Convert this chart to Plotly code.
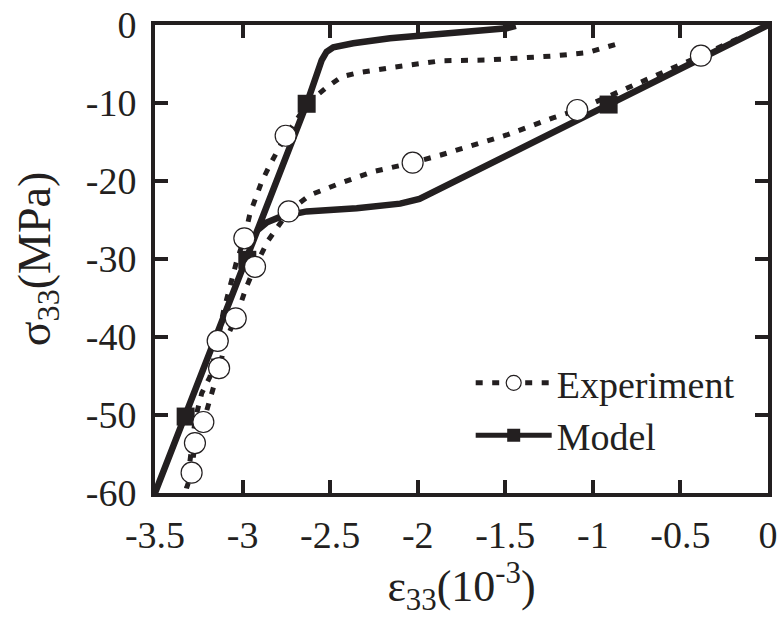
import plotly.graph_objects as go

# ---- data ----
exp_x = [0, -0.383, -1.089, -1.228, -1.492, -1.70, -1.873, -2.029, -2.254, -2.444, -2.615,
         -2.737, -2.786, -2.853, -2.929, -2.98, -3.039, -3.089, -3.134, -3.19, -3.224, -3.272,
         -3.291, -3.32,
         -3.27, -3.233, -3.186, -3.142, -3.11, -3.062, -3.034, -2.99, -2.958, -2.891, -2.843,
         -2.754, -2.672, -2.59, -2.52, -2.434, -2.339, -2.139, -1.863, -1.606, -1.416, -1.226,
         -1.035, -0.94, -0.849]
exp_y = [0, -3.93, -10.9, -11.9, -14.1, -15.6, -16.7, -17.65, -18.8, -20.3, -21.8,
         -23.9, -25.4, -27.6, -31.0, -33.7, -37.6, -40.0, -44.0, -48.3, -50.9, -53.6,
         -57.4, -59.4,
         -50.5, -47.2, -45.1, -40.5, -36.8, -32.7, -30.3, -27.35, -24.2, -20.1, -17.9,
         -14.2, -11.5, -9.3, -8.0, -6.63, -6.12, -5.42, -4.58, -4.49, -4.27, -3.97,
         -3.55, -2.99, -2.35]

exp_marker_x = [-0.383, -1.089, -2.029, -2.737, -2.754, -2.99, -2.929, -3.039, -3.142,
                -3.134, -3.224, -3.272, -3.291]
exp_marker_y = [-3.93, -10.9, -17.65, -23.9, -14.2, -27.35, -31.0, -37.6, -40.5,
                -44.0, -50.9, -53.6, -57.4]

model_x = [0, -0.91, -1.99, -2.1, -2.348, -2.634, -2.786, -2.86, -2.915, -3.5,
           -2.634, -2.548, -2.52, -2.482, -2.368, -2.158, -1.777, -1.492, -1.44]
model_y = [0, -10.2, -22.3, -22.9, -23.5, -23.9, -24.6, -25.3, -26.3, -60,
           -10.1, -4.49, -3.42, -2.86, -2.35, -1.71, -1.07, -0.43, -0.1]

model_marker_x = [-0.91, -2.634, -2.973, -3.325]
model_marker_y = [-10.2, -10.1, -30.1, -50.2]

x_tickvals = [-3.5, -3, -2.5, -2, -1.5, -1, -0.5, 0]
x_ticktext = ["-3.5", "-3", "-2.5", "-2", "-1.5", "-1", "-0.5", "0"]
y_tickvals = [0, -10, -20, -30, -40, -50, -60]
y_ticktext = ["0", "-10", "-20", "-30", "-40", "-50", "-60"]

INK = "#231f20"
FONT = "Liberation Serif"
DOT = "7px,9.5px"

fig = go.Figure()
fig.add_trace(go.Scatter(x=exp_x, y=exp_y, mode="lines", showlegend=False,
                         line=dict(color=INK, width=5, dash=DOT)))
fig.add_trace(go.Scatter(x=model_x, y=model_y, mode="lines", showlegend=False,
                         line=dict(color=INK, width=6.5)))
fig.add_trace(go.Scatter(x=model_marker_x, y=model_marker_y, mode="markers", showlegend=False,
                         marker=dict(symbol="square", size=18, color=INK)))
fig.add_trace(go.Scatter(x=exp_marker_x, y=exp_marker_y, mode="markers", showlegend=False,
                         marker=dict(symbol="circle", size=21, color="white",
                                     line=dict(color=INK, width=1.2))))
# legend entries
fig.add_trace(go.Scatter(x=[None], y=[None], mode="lines+markers", name="Experiment",
                         legendgroup="a",
                         line=dict(color=INK, width=5, dash=DOT),
                         marker=dict(symbol="circle", size=15, color="white",
                                     line=dict(color=INK, width=1.2))))
fig.add_trace(go.Scatter(x=[None], y=[None], mode="lines+markers", name="Model",
                         legendgroup="b",
                         line=dict(color=INK, width=5),
                         marker=dict(symbol="square", size=13, color=INK)))

axis_common = dict(showline=True, linewidth=4, linecolor=INK, mirror="ticks",
                   ticks="inside", ticklen=13, tickwidth=3.5, tickcolor=INK,
                   showgrid=False, zeroline=False, automargin=False,
                   tickfont=dict(family=FONT, size=38, color=INK))

fig.update_layout(
    width=779, height=623,
    margin=dict(l=155, r=11, t=25, b=130),
    paper_bgcolor="white", plot_bgcolor="white",
    font=dict(family=FONT, color=INK),
    xaxis=dict(range=[-3.5, 0], tickvals=x_tickvals, ticktext=x_ticktext,
               ticklabelstandoff=5,
               title=dict(text="ε<sub>33</sub>(10<sup>-3</sup>)",
                          font=dict(family=FONT, size=44, color=INK), standoff=11),
               **axis_common),
    yaxis=dict(range=[-60, 0], tickvals=y_tickvals, ticktext=y_ticktext,
               ticklabelstandoff=7,
               title=dict(text="σ<sub>33</sub>(MPa)",
                          font=dict(family=FONT, size=46, color=INK), standoff=22),
               **axis_common),
    legend=dict(x=0.515, y=0.302, xanchor="left", yanchor="top",
                bgcolor="rgba(0,0,0,0)", borderwidth=0,
                font=dict(family=FONT, size=38, color=INK),
                itemwidth=76, traceorder="grouped", tracegroupgap=0),
)

fig.write_html("out.html", config={"displayModeBar": False},
               post_script="document.body.style.margin='0';document.body.style.padding='0';")
